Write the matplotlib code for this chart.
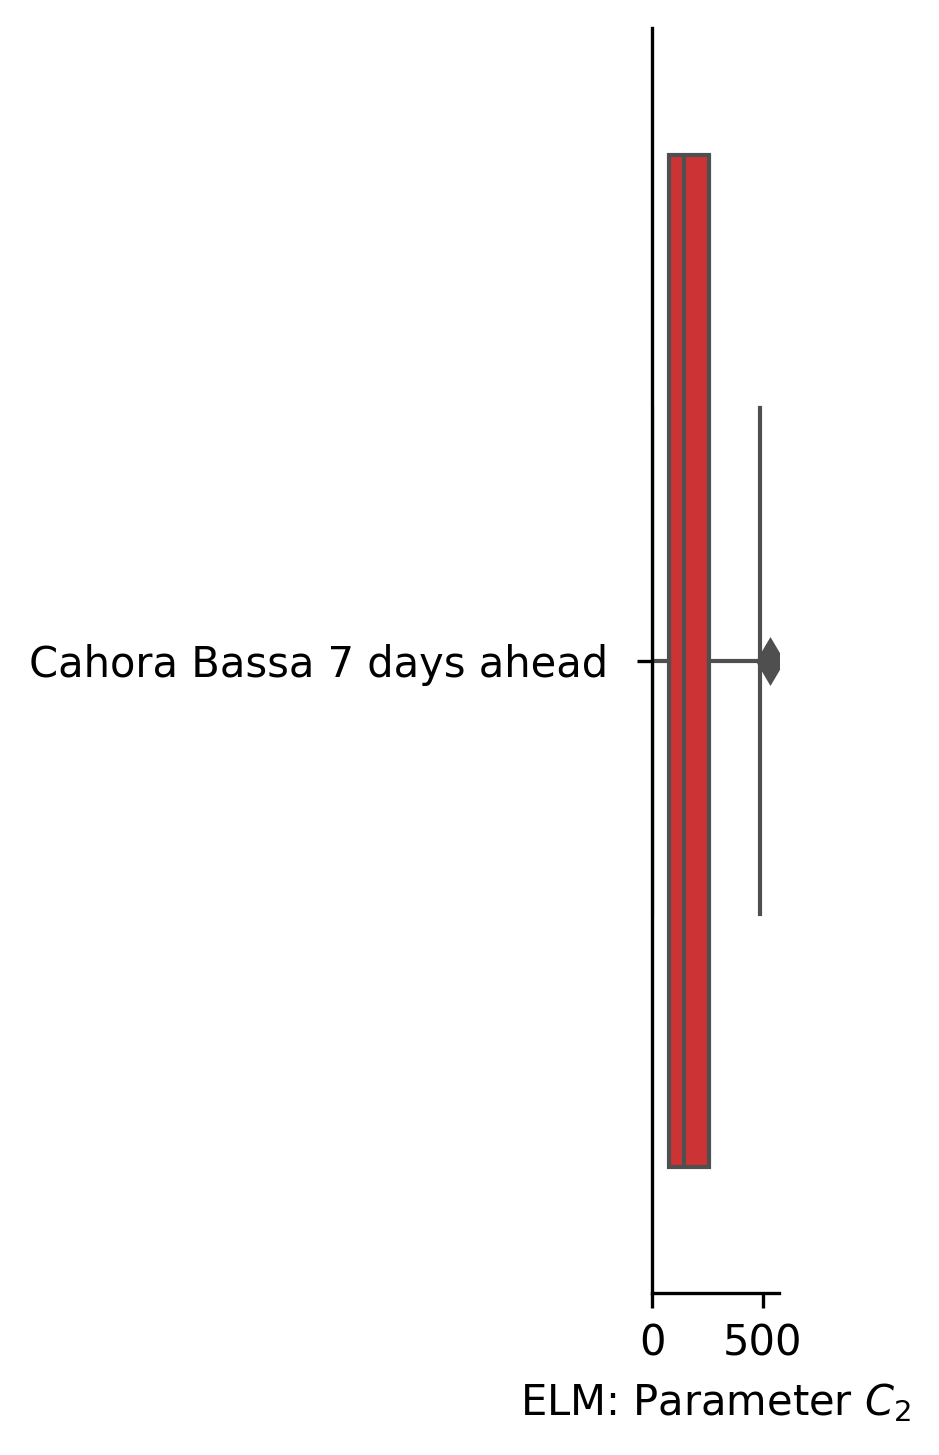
import matplotlib
matplotlib.use("Agg")
import matplotlib.pyplot as plt
import colorsys

categories = ["Cahora Bassa 7 days ahead"]
q1_values = [77]
median_values = [145]
q3_values = [259]
whisker_low = [2]
whisker_high = [486]
flier_values = [[535]]
x_ticks = [0, 500]
x_label = "ELM: Parameter $C_2$"

# seaborn-like desaturated Set1 red
base = (0.894, 0.102, 0.110)
h, l, s = colorsys.rgb_to_hls(*base)
box_color = colorsys.hls_to_rgb(h, l, s * 0.75)
line_gray = "#4f4f4f"

plt.rcParams["font.family"] = ["DejaVu Sans"]
plt.rcParams["font.size"] = 10

fig = plt.figure(figsize=(939 / 300, 1455 / 300), dpi=300)
ax = fig.add_axes([652 / 939, 1 - 1293 / 1455, (779 - 652) / 939, (1293 - 28) / 1455])

stats = []
for i, name in enumerate(categories):
    stats.append(dict(label=name, q1=q1_values[i], med=median_values[i], q3=q3_values[i],
                      whislo=whisker_low[i], whishi=whisker_high[i], fliers=flier_values[i]))

lw = 1.0
ax.bxp(stats, positions=list(range(len(categories))), widths=0.8, vert=False,
       patch_artist=True, showfliers=True,
       boxprops=dict(facecolor=box_color, edgecolor=line_gray, linewidth=lw),
       medianprops=dict(color=line_gray, linewidth=lw),
       whiskerprops=dict(color=line_gray, linewidth=lw),
       capprops=dict(color=line_gray, linewidth=lw),
       flierprops=dict(marker="d", markerfacecolor=line_gray, markeredgecolor=line_gray,
                       markersize=7.5, markeredgewidth=0.6, linestyle="none"))

ax.set_ylim(0.5, -0.5)
ax.set_xlim(0, 574)
ax.set_xticks(x_ticks)
ax.set_yticks(range(len(categories)))
ax.set_yticklabels(categories)
ax.tick_params(axis="y", pad=7)
ax.set_xlabel(x_label)
for side in ["top", "right"]:
    ax.spines[side].set_visible(False)

fig.savefig("out.png", dpi=300)
